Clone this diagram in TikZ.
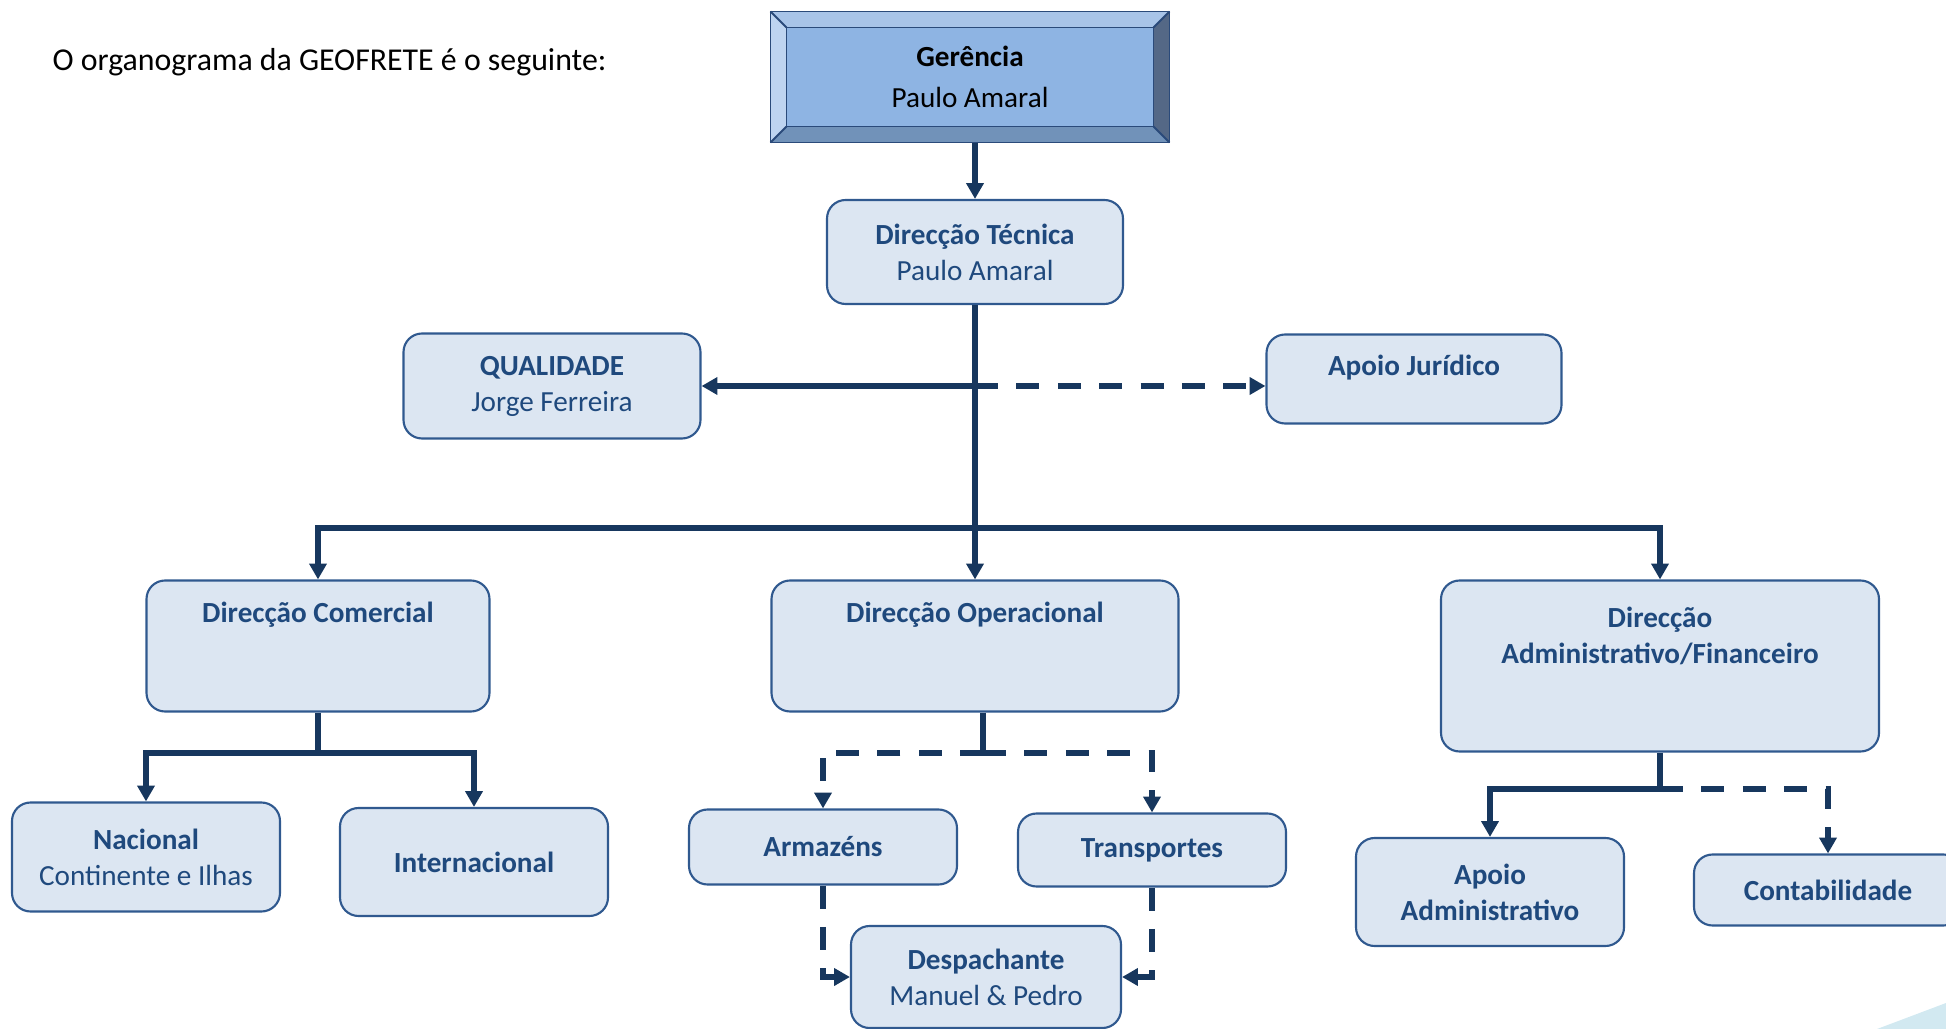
\documentclass[tikz,border=0pt]{standalone}
\usepackage{fontspec}
\setmainfont{Carlito}
\usetikzlibrary{positioning,calc,arrows.meta}
\definecolor{boxfill}{HTML}{DCE6F2}
\definecolor{boxline}{HTML}{30598F}
\definecolor{boxtext}{HTML}{1F497D}
\definecolor{linkcol}{HTML}{17375E}
\definecolor{gerfill}{HTML}{8EB4E3}
\definecolor{gertop}{HTML}{A8C4E8}
\definecolor{gerleft}{HTML}{BED4F0}
\definecolor{gerright}{HTML}{546886}
\definecolor{gerbottom}{HTML}{7192B9}
\definecolor{gerline}{HTML}{2A4A7A}
\definecolor{cornerfill}{HTML}{D2E9F1}

\begin{document}
\begin{tikzpicture}[x=0.377pt,y=-0.377pt,font=\fontsize{11}{13.6}\selectfont,
    >={Triangle[width=6.4pt,length=6pt]},
    plain link/.style={draw=linkcol,line width=2.3pt},
    link/.style={plain link,->},
    dashed link/.style={link,dash pattern=on 8.7pt off 6.9pt},
    unit box/.style 2 args={draw=boxline,line width=0.8pt,fill=boxfill,rounded corners=7pt,
        text=boxtext,align=center,inner sep=0pt,minimum width=#1*0.377pt,minimum height=#2*0.377pt},
    box text/.style={text=boxtext,align=center,font=\fontsize{11}{13.6}\selectfont\bfseries}]

\useasboundingbox (0,0) rectangle (1946,1029);
\fill[cornerfill] (1877,1029) -- (1946,1003) -- (1946,1029) -- cycle;

\node[anchor=west,inner sep=0pt,font=\fontsize{12}{14.4}\selectfont] (title) at (52,62) {O organograma da GEOFRETE é o seguinte:};

\node[draw=gerline,fill=gerfill,align=center,inner sep=0pt,minimum width=398*0.377pt,
    minimum height=130*0.377pt] (ger) at (970,77) {\textbf{Gerência}\\[2pt]Paulo Amaral};
\fill[gertop] (ger.north west) -- (ger.north east) -- ($(ger.north east)+(-16,16)$) -- ($(ger.north west)+(16,16)$) -- cycle;
\fill[gerleft] (ger.north west) -- (ger.south west) -- ($(ger.south west)+(16,-16)$) -- ($(ger.north west)+(16,16)$) -- cycle;
\fill[gerright] (ger.north east) -- (ger.south east) -- ($(ger.south east)+(-16,-16)$) -- ($(ger.north east)+(-16,16)$) -- cycle;
\fill[gerbottom] (ger.south west) -- (ger.south east) -- ($(ger.south east)+(-16,-16)$) -- ($(ger.south west)+(16,-16)$) -- cycle;
\draw[gerline,line width=0.7pt] (ger.north west) rectangle (ger.south east)
    ($(ger.north west)+(16,16)$) rectangle ($(ger.south east)+(-16,-16)$);
\foreach \c/\dx/\dy in {north west/16/16,north east/-16/16,south west/16/-16,south east/-16/-16}
    \draw[gerline,line width=0.7pt] (ger.\c) -- ++(\dx,\dy);

\node[unit box={296}{104}] (dtec) at (975,252) {\textbf{Direcção Técnica}\\Paulo Amaral};
\node[unit box={297}{105}] (qual) at (552,386) {\textbf{QUALIDADE}\\Jorge Ferreira};
\node[unit box={295}{89},label={[box text,yshift=4.3pt]center:Apoio Jurídico}] (jur) at (1414,379) {};
\node[unit box={343}{131},label={[box text,yshift=11.9pt]center:Direcção Comercial}] (dcom) at (318,646) {};
\node[unit box={407}{131},label={[box text,yshift=11.9pt]center:Direcção Operacional}] (dop) at (975,646) {};
\node[unit box={438}{171},label={[box text,yshift=11.5pt]center:{Direcção\\Administrativo/Financeiro}}] (dadm) at (1660,666) {};
\node[unit box={268}{109}] (nac) at (146,857) {\textbf{Nacional}\\Continente e Ilhas};
\node[unit box={268}{108}] (int) at (474,862) {\textbf{Internacional}};
\node[unit box={268}{75}] (arm) at (823,847) {\textbf{Armazéns}};
\node[unit box={268}{73}] (tra) at (1152,850) {\textbf{Transportes}};
\node[unit box={270}{102}] (desp) at (986,977) {\textbf{Despachante}\\Manuel \& Pedro};
\node[unit box={268}{108}] (aadm) at (1490,892) {\textbf{Apoio}\\\textbf{Administrativo}};
\node[unit box={268}{71}] (cont) at (1828,890) {\textbf{Contabilidade}};

\draw[link] (ger.south -| dtec.north) -- (dtec.north);
\draw[link] (dtec.south) -- (dop.north);
\coordinate (j1) at (dtec.south |- qual.east);
\coordinate (j2) at ($(dtec.south)+(0,223)$);
\draw[link] (j1) -- (qual.east);
\draw[dashed link] (j1) -- (j1 -| jur.west);
\draw[link] (j2) -| (dcom.north);
\draw[link] (j2) -| (dadm.north);

\coordinate (c1) at ($(dcom.south)+(0,40)$);
\draw[plain link] (dcom.south) -- (c1);
\draw[link] (c1) -| (nac.north);
\draw[link] (c1) -| (int.north);

\coordinate (o1) at ($(dop.south)+(8,40)$);
\draw[plain link] (o1 |- dop.south) -- (o1);
\draw[dashed link] (o1) -| (arm.north);
\draw[dashed link] (o1) -| (tra.north);
\draw[dashed link] (arm.south) |- (desp.west);
\draw[dashed link] (tra.south) |- (desp.east);

\coordinate (a1) at ($(dadm.south)+(0,36)$);
\draw[plain link] (dadm.south) -- (a1);
\draw[link] (a1) -| (aadm.north);
\draw[dashed link] (a1) -| (cont.north);

\end{tikzpicture}
\end{document}
